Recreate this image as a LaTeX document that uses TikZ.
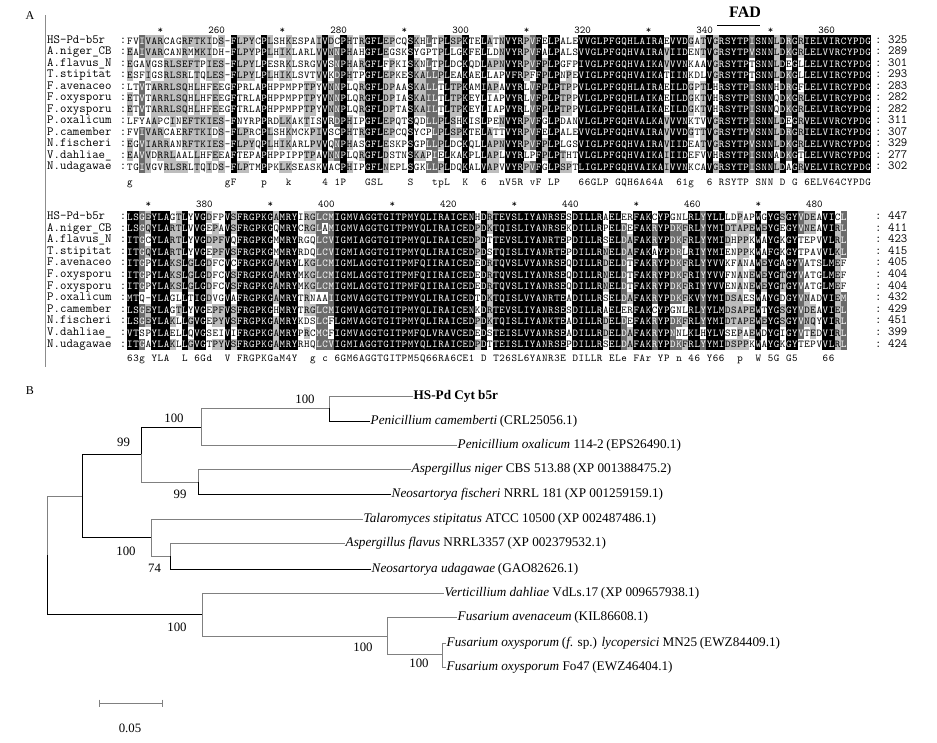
\documentclass[tikz,border=0pt]{standalone}
\usepackage{fontspec}
\setmainfont{Liberation Serif}
\usetikzlibrary{positioning}

\makeatletter
%% residue classes used for the shading ------
\@namedef{clsD}{1}\@namedef{clsN}{1}
\@namedef{clsE}{2}\@namedef{clsQ}{2}
\@namedef{clsS}{3}\@namedef{clsT}{3}
\@namedef{clsK}{4}\@namedef{clsR}{4}
\@namedef{clsF}{5}\@namedef{clsY}{5}\@namedef{clsW}{5}
\@namedef{clsL}{6}\@namedef{clsI}{6}\@namedef{clsV}{6}\@namedef{clsM}{6}
\newcount\rescol \newcount\reshits \newcount\resq
\def\gapres{-}
\def\blankres{.}
\def\resclass#1{\ifcsname cls#1\endcsname\csname cls#1\endcsname\else#1\fi}
\newcommand\storeseq[3]{%
  \rescol=0
  \@tfor\resch:=#3\do{%
    \expandafter\let\csname s#1r#2c\the\rescol\endcsname\resch
    \expandafter\edef\csname k#1r#2c\the\rescol\endcsname{\resclass\resch}%
    \advance\rescol by 1\relax}}
\newcommand\drawblock[4]{% block, last column, first row y, row step
  \foreach \rw in {1,...,12}{%
    \foreach \cl in {0,...,#2}{%
      \expandafter\let\expandafter\myres\csname s#1r\rw c\cl\endcsname
      \expandafter\let\expandafter\mykls\csname k#1r\rw c\cl\endcsname
      \reshits=0 \resq=1
      \loop
        \expandafter\let\expandafter\otherkls\csname k#1r\the\resq c\cl\endcsname
        \ifx\mykls\otherkls\advance\reshits by 1\relax\fi
        \advance\resq by 1\relax
      \ifnum\resq<13\repeat
      \ifx\myres\gapres\reshits=0\relax\fi
      \ifnum\reshits=12 \def\cellbg{black}\def\cellfg{white}%
      \else\ifnum\reshits>8 \def\cellbg{darkres}\def\cellfg{white}%
      \else\ifnum\reshits>4 \def\cellbg{lightres}\def\cellfg{black}%
      \else\let\cellbg\empty\def\cellfg{black}\fi\fi\fi
      \ifx\cellbg\empty\else
        \fill[\cellbg] ({130+6.1*\cl-3.1},{#3+#4*(\rw-1)-5.8}) rectangle +(6.2,11.6);
      \fi
      \node[residue,text=\cellfg] (#1\rw-\cl) at ({130+6.1*\cl},{#3+#4*(\rw-1)}) {\myres};
    }}}
\newcommand\drawcons[3]{% block, y, consensus
  \rescol=0
  \@tfor\resch:=#3\do{%
    \ifx\resch\blankres\else
      \node[residue] (#1k\the\rescol) at ({130+6.1*\the\rescol},#2) {\resch};
    \fi
    \advance\rescol by 1\relax}}
\makeatother

\tikzset{
  residue/.style={inner sep=0pt, text height=6.5pt, text depth=0pt, font=\fontsize{10.5}{10.5}\ttfamily},
  seqname/.style={inner sep=0pt, anchor=west, text height=6.5pt, text depth=1.5pt, font=\fontsize{12.5}{12.5}\ttfamily},
  ruler/.style={inner sep=0pt, font=\fontsize{10.5}{10.5}\ttfamily},
  leaf/.style={inner sep=0.5pt, anchor=west, font=\fontsize{13.2}{15}\selectfont},
  boot/.style={inner sep=0pt, font=\fontsize{12.8}{14}\selectfont},
  panel/.style={inner sep=0pt, font=\fontsize{12}{14}\selectfont},
  tb/.style={line width=0.8pt, black},
  tg/.style={line width=0.8pt, treegray}
}
\newcommand\acc[1]{\hspace{0.2em}(#1)}

\begin{document}
\begin{tikzpicture}[x=1pt,y=-1pt]
	\definecolor{darkres}{gray}{0.42}
	\definecolor{lightres}{gray}{0.74}
	\definecolor{treegray}{gray}{0.5}
	\fill[white] (0,0) rectangle (937,742);
	\useasboundingbox (0,0) rectangle (937,742);
	%% Panel A ------
	\node[panel] (pa) at (30,16) {A};
	\coordinate (frt) at (45.5,15);
	\coordinate (frb) at (45.5,367);
	\draw[black!45, line width=0.8pt] (frt) -- (frb);
	\node[inner sep=0pt, font=\fontsize{16}{16}\bfseries] (fad) at (745,12) {FAD};
	\coordinate (fadl) at (717,25);
	\coordinate (fadr) at (760,25);
	\draw[line width=1pt] (fadl) -- (fadr);
	%% Sequences, first block ------
	\storeseq{a}{1}{FVIVARCAGRFTKIDS-FLPYCPLSHKESPAIVDCPHTRGFLEPCQSKHLTPLSPKTELATNVYRPVFELPALEVVGLPFGQHLAIRAEVVDGATVGRSYTPISNNLDRGRIELVIRCYPDG}
	\storeseq{a}{2}{EAIVARCANRMMKIDH-FLPYPPLHIKLARLVVNNPHAHGFLEGSKSYGPTPLLGKFELLDNVYRPVFALPALSVVGLPFGQHVAIRAVIIDENTVGRSYTPVSNNLDKGRLELVVRCYPDG}
	\storeseq{a}{3}{EGAVGSRLSEFTPIES-FLPYLPESRKLSRGVVSNPHARGFLFPKISKNLTPLDCKQDLAPNVYRPVFPLPGFPIVGLPFGQHVAIKAVVVNKAAVGRSYTPTSNNLDEGLLELVIRCYPDG}
	\storeseq{a}{4}{ESFIGSRLSRLTQLES-FLPYLPLHIKLSVTVVKDPHTPGFLEPKESKALLPLEAKAELLAPVFRPFFPLPNPEVIGLPFGQHVAIKATIINKDLVGRSYTPTSNNLDKGLLELVIRCYPDG}
	\storeseq{a}{5}{LTVTARRLSQHLHFEEGFPRLAPHPPMPPTPYVNNPLQRGFLDPAASKALLTLTPKAMIAPAVYRLVFPLPTPPVLGLPFGQHLAIRAEILDGPTLHRSYTPISNNHDRGFLELVIRCYPDG}
	\storeseq{a}{6}{ETVTARRLSQHLHFEEGFTRLAPHPPMPPTPYVNNPLQRGFLDPIASKAILTLTPKEYLIAPVYRLVFPLPTPPVLGLPFGQHLAIKAEILDGKTVHRSYTPISNNQDKGRLELVIRCYPDG}
	\storeseq{a}{7}{ETVTARRLSQHLHFEEGFTRLAPHPPMPPTPYVNNPLQRGFLDPTASKAILTLTPKEYLIAPVYRLVFPLPTPPVLGLPFGQHLAIKAEILDGKTVHRSYTPISNNQDKGRLELVIRCYPDG}
	\storeseq{a}{8}{LFYAAPCINEFTKIES-FNYRPPRDLKAKTISVRDPHIPGFLEPQTSQDLLPLSHKISLPENVYRPVFGLPDANVLGLPFGQHVALKAVVVNKTVVGRSYTPISNNLDEGRVELVVRCYPDG}
	\storeseq{a}{9}{FVIVARCAERFTKIDS-FLPRCPLSHKMCKPIVSCPHTRGFLEPCQSYCPLPLSPKTELATTVYRPVFELPALEVVGLPFGQHVAIRAVVVDGTTVGRSYTPVSNNLDRGRIELVIRCYPDG}
	\storeseq{a}{10}{EGVIARRANRFTKIES-FLPYQPLHIKARLPVVQNPHASGFLESKPSGPLLPLDCKQLLAPNVYRPVFPLPLGSVIGLPFGQHVAIRAVIIDEATVGRSYTPVSNNLDKGRLELVVRCYPDG}
	\storeseq{a}{11}{EAVVDRRLAALLHFEEAFTEPAPHPPIPPTPAVNNPLQRGFLDSTNSKAPIELKAKPLLAPLVYRLPFPLPTHTVLGLPFGQHVAIKAIIIDEFVVHRSYTPISNNADKGTLELVVRCYPDG}
	\storeseq{a}{12}{TGIVGVRLSRLTQIDS-FLPTMPPKLKSEASKVACPHIPGFLNEPLSGKLLPLDQKALVAPVVYRPVFGLPSPTLIGLPFGQHVAIKAIVVNKCAVGRSYTPISNNLDAGRVELVIRCYPDG}
	\drawblock{a}{121}{41}{11.45}
	\drawcons{a}{182}{g...............gF....p...k.....4.1P...GSL....S...tpL..K..6..nV5R.vF.LP...66GLP.GQH6A64A..61g..6.RSYTP.SNN.D.G.6ELV64CYPDG}
	\foreach \k in {0,...,11}{
		\pgfmathtruncatemacro\rpos{250+10*\k}
		\ifodd\k\relax
			\node[ruler,anchor=east] (rula-\k) at ({130+6.1*(5+10*\k)+3.5},30) {\rpos};
		\else
			\node[ruler] (rula-\k) at ({130+6.1*(5+10*\k)},31) {*};
		\fi}
	%% Sequences, second block ------
	\storeseq{b}{1}{LSGEYLAGTLYVGDFPVSFRGPKGAMRYIRGLCMIGMVAGGTGITPMYQLIRAICENHDRTEVSLIYANRSESDILLRAELERFAKCYPGNLRLYYLLLDPAPWGYGSGYVDEAVICL}
	\storeseq{b}{2}{LSGQYLARTLVVGEPAVSFRGPKGQMRYCRGLAMIGMVAGGTGITPMYQLIRAICEDPDKTQISLIYANRSEKDILLRPELDEFAKRYPDKFRLYYMIDTAPEWEYGEGYVNEAVIRL}
	\storeseq{b}{3}{ITGCYLARTLYVGDPFVQFRGPKGMMRYRGQLCVIGMIAGGTGITPMYQLIRAICEDPDTTEVSLIYANRTEPDILLRSELDAFAKRYPDKFRLYYMIDHPPKWAYGKGYTEPVVLRL}
	\storeseq{b}{4}{ITGQYLARTLYVGEPFVSFRGPKGMMRYRDQLCVIGMIAGGTGITPMYQLIRAICEDPDSTQISLIYANRTEPDILLRNELDAFAKAYPDRLRIYYMIENPPKWAFGKGYTPAVVLKL}
	\storeseq{b}{5}{ITGPYLAKSLGLGDFCVCFRGPKGAMRYLKGLCMIGMLAGGTGITPMFQIIRAICEDEDRTQVSLVYANRSEQDILLRDELDTFAKRYPDKFRLYYVVKFANAWEYGAGYVATSLMEF}
	\storeseq{b}{6}{ITGPYLAKSLGLGDFCVSFRGPKGAMRYMKGLCMIGMLAGGTGITPMFQIIRAICEDEDRTQVSLIYANRSEQDILLRNELDTFAKRYPDKFRIYYVVFNANEWEYGTGYVATGLMEF}
	\storeseq{b}{7}{ITGPYLAKSLGLGDFCVSFRGPKGAMRYMKGLCMIGMLAGGTGITPMFQIIRAICEDEDRTQVSLIYANRSEQDILLRNELDTFAKRYPDKFRIYYVVENANEWEYGTGYVATGLMEF}
	\storeseq{b}{8}{MTQ-YLAGLLTIGDVGVAFRGPKGAMRYTRNAAIIGMVAGGTGITPMYQLIRAICEDTDKTQISLVYANRTEADILLRSELDAFAKRYPDKFKVYYMIDSAESWAYGDGYVNADVIEM}
	\storeseq{b}{9}{LSGEYLAGTLYVGEPFVSFRGPKGHMRYTRGLCMIGMVAGGTGITPMYQLIRAICENKDRTEVSLIYANRSESDILLRAELERFAKCYPGNLRLYYLMDSAPEWTYGSGYVDEAVIEL}
	\storeseq{b}{10}{LSGEYLAKLLGVGEPYVSFRGPKGAMRYKDSLCFLGMVAGGTGITPMYQLIRAICEDPDKTQISLIYANKTEADILLRDELDEFAKRYPDKFRLYYMIDTAPEWEYGSGYVNQYVIRL}
	\storeseq{b}{11}{VTSPYLAELLQVGSEIVIFRGPKGAMRYPRCMCFIGMVAGGTGITPMFQLVRAVCEDEDSTEISLVYANRSEADILLRDELDAFAKRYPNNLKLHYLVSEPAEWDYGIGYVTEDVIRL}
	\storeseq{b}{12}{ITGAYLAKLLGVGTPYVSFRGPKGAMRYRHQLCVIGMIAGGTGITPMYQLIRAICEDPDTTEISLIYANRSEPDILLRSELDAFAKRYPDKFRLYYMIDSPPKWAYGKGYTEPVVLRL}
	\drawblock{b}{117}{217}{11.6}
	\drawcons{b}{358}{63g.YLA..L.6Gd..V.FRGPKGaM4Y..g.c.6GM6AGGTGITPM5Q66RA6CE1.D.T26SL6YANR3E.DILLR.ELe.FAr.YP.n.46.Y66..p..W.5G.G5....66..}
	\foreach \k in {0,...,11}{
		\pgfmathtruncatemacro\rpos{370+10*\k}
		\ifodd\k\relax
			\node[ruler,anchor=east] (rulb-\k) at ({130+6.1*(3+10*\k)+3.5},204) {\rpos};
		\else
			\node[ruler] (rulb-\k) at ({130+6.1*(3+10*\k)},205) {*};
		\fi}
	%% Names and lengths ------
	\foreach \nm/\na/\nb [count=\rw] in {HS-Pd-b5r/325/447, A.niger\_CB/289/411, A.flavus\_N/301/423, T.stipitat/293/415, F.avenaceo/283/405, F.oxysporu/282/404, F.oxysporu/282/404, P.oxalicum/311/432, P.camember/307/429, N.fischeri/329/451, V.dahliae\_/277/399, N.udagawae/302/424}{
		\node[seqname] (na\rw) at (47,{41+11.45*(\rw-1)}) {\nm};
		\node[seqname,anchor=center] (ca\rw) at (123,{41+11.45*(\rw-1)}) {:};
		\node[seqname] (la\rw) at (875,{41+11.45*(\rw-1)}) {:\ \na};
		\node[seqname] (nb\rw) at (47,{217+11.6*(\rw-1)}) {\nm};
		\node[seqname,anchor=center] (cb\rw) at (123,{217+11.6*(\rw-1)}) {:};
		\node[seqname] (lb\rw) at (875,{217+11.6*(\rw-1)}) {:\ \nb};
	}
	%% Panel B ------
	\node[panel] (pb) at (30,391) {B};
	%% Vertices ------
	\coordinate (root) at (47.7,555);
	\coordinate (n1) at (82.7,496);
	\coordinate (n2) at (141.7,454);
	\coordinate (n3) at (201,427);
	\coordinate (n4) at (329.3,408);
	\coordinate (n5) at (198.3,482);
	\coordinate (n6) at (151,537);
	\coordinate (n7) at (170.3,556);
	\coordinate (nf) at (202.7,614);
	\coordinate (n8) at (387.5,636);
	\coordinate (n9) at (442.3,654);
	\node[leaf] (hs) at (413,396) {\textbf{HS-Pd Cyt b5r}};
	\node[leaf] (pcam) at (370,421) {\textit{Penicillium camemberti}\acc{CRL25056.1}};
	\node[leaf] (poxa) at (457,445) {\textit{Penicillium oxalicum} 114-2\acc{EPS26490.1}};
	\node[leaf] (anig) at (411,469) {\textit{Aspergillus niger} CBS 513.88\acc{XP 001388475.2}};
	\node[leaf] (nfis) at (391,494) {\textit{Neosartorya fischeri} NRRL 181\acc{XP 001259159.1}};
	\node[leaf] (tsti) at (363,519) {\textit{Talaromyces stipitatus} ATCC 10500\acc{XP 002487486.1}};
	\node[leaf] (afla) at (345,543) {\textit{Aspergillus flavus} NRRL3357\acc{XP 002379532.1}};
	\node[leaf] (nuda) at (371,569) {\textit{Neosartorya udagawae}\acc{GAO82626.1}};
	\node[leaf] (vdah) at (444,593) {\textit{Verticillium dahliae} VdLs.17\acc{XP 009657938.1}};
	\node[leaf] (fave) at (457,617) {\textit{Fusarium avenaceum}\acc{KIL86608.1}};
	\node[leaf] (flyc) at (446,643) {\textit{Fusarium oxysporum}\acc{\textit{f}. sp.} \textit{lycopersici} MN25\acc{EWZ84409.1}};
	\node[leaf] (ffo) at (446,667) {\textit{Fusarium oxysporum} Fo47\acc{EWZ46404.1}};
	%% Edges ---------
	\draw[tg] (root) |- (n1);
	\draw[tb] (root) |- (nf);
	\draw[tb] (n1) |- (n2);
	\draw[tb] (n1) |- (n6);
	\draw[tb] (n2) |- (n3);
	\draw[tg] (n2) |- (n5);
	\draw[tg] (n3) |- (n4);
	\draw[tg] (n3) |- (poxa.west);
	\draw[tg] (n4) |- (hs.west);
	\draw[tb] (n4) |- (pcam.west);
	\draw[tg] (n5) |- (anig.west);
	\draw[tb] (n5) |- (nfis.west);
	\draw[tg] (n6) |- (tsti.west);
	\draw[tg] (n6) |- (n7);
	\draw[tg] (n7) |- (afla.west);
	\draw[tb] (n7) |- (nuda.west);
	\draw[tg] (nf) |- (vdah.west);
	\draw[tg] (nf) |- (n8);
	\draw[tg] (n8) |- (fave.west);
	\draw[tg] (n8) |- (n9);
	\draw[tg] (n9) |- (flyc.west);
	\draw[tg] (n9) |- (ffo.west);
	%% Bootstrap values ------
	\node[boot] (bs4) at (305,399.5) {100};
	\node[boot] (bs3) at (174,418) {100};
	\node[boot] (bs2) at (123.5,442) {99};
	\node[boot] (bs5) at (180,494) {99};
	\node[boot] (bs6) at (126,551) {100};
	\node[boot] (bs7) at (154.5,568) {74};
	\node[boot] (bsf) at (177,627) {100};
	\node[boot] (bs8) at (363,647) {100};
	\node[boot] (bs9) at (419,663.5) {100};
	%% Scale bar ------
	\coordinate (sbl) at (99,703);
	\coordinate (sbr) at (162,703);
	\draw[tg] (sbl) -- (sbr);
	\draw[tg] (sbl) ++(0,-3.5) -- ++(0,7);
	\draw[tg] (sbr) ++(0,-3.5) -- ++(0,7);
	\node[boot] (sblab) at (130,728) {0.05};
\end{tikzpicture}
\end{document}
